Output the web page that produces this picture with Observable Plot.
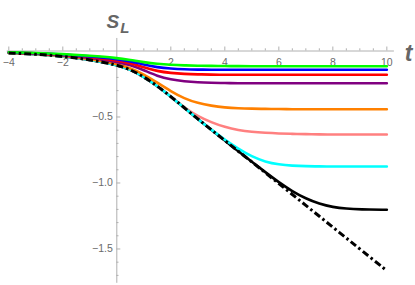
<!DOCTYPE html>
<html><head><meta charset="utf-8">
<script src="https://cdn.jsdelivr.net/npm/d3@7"></script>
<script src="https://cdn.jsdelivr.net/npm/@observablehq/plot@0.6"></script>
<style>body{margin:0;background:#fff}</style>
</head><body><div id="chart"></div>
<script>
// time samples
const t = [-4,-3,-2,-1,0,0.5,1,1.5,2,2.5,3,3.5,4,4.5,5,5.5,6,6.5,7,7.5,8,8.5,9,10];
// series values
const green  = [-0.009,-0.014,-0.023,-0.036,-0.052,-0.067,-0.085,-0.098,-0.105,-0.109,-0.112,-0.113,-0.114,-0.115,-0.115,-0.115,-0.115,-0.115,-0.115,-0.115,-0.115,-0.115,-0.115,-0.115];
const blue   = [-0.010,-0.016,-0.026,-0.040,-0.060,-0.077,-0.103,-0.124,-0.134,-0.139,-0.141,-0.142,-0.142,-0.142,-0.142,-0.142,-0.142,-0.142,-0.142,-0.142,-0.142,-0.142,-0.142,-0.142];
const red    = [-0.011,-0.017,-0.028,-0.045,-0.070,-0.090,-0.125,-0.153,-0.167,-0.174,-0.177,-0.179,-0.180,-0.180,-0.180,-0.180,-0.180,-0.180,-0.180,-0.180,-0.180,-0.180,-0.180,-0.180];
const purple = [-0.012,-0.019,-0.032,-0.052,-0.082,-0.105,-0.145,-0.190,-0.216,-0.230,-0.238,-0.241,-0.243,-0.244,-0.244,-0.244,-0.244,-0.244,-0.244,-0.244,-0.244,-0.244,-0.244,-0.244];
const orange = [-0.014,-0.022,-0.037,-0.060,-0.098,-0.130,-0.175,-0.240,-0.305,-0.360,-0.395,-0.415,-0.428,-0.434,-0.437,-0.439,-0.440,-0.441,-0.441,-0.441,-0.441,-0.441,-0.441,-0.441];
const pink   = [-0.015,-0.024,-0.040,-0.065,-0.105,-0.140,-0.195,-0.265,-0.345,-0.430,-0.495,-0.540,-0.577,-0.600,-0.613,-0.620,-0.625,-0.628,-0.630,-0.632,-0.633,-0.633,-0.633,-0.633];
const cyan   = [-0.015,-0.024,-0.040,-0.065,-0.105,-0.140,-0.195,-0.265,-0.345,-0.430,-0.515,-0.597,-0.672,-0.742,-0.800,-0.840,-0.860,-0.869,-0.873,-0.874,-0.875,-0.875,-0.875,-0.875];
const black  = [-0.015,-0.024,-0.040,-0.065,-0.105,-0.140,-0.195,-0.265,-0.345,-0.430,-0.515,-0.597,-0.678,-0.760,-0.840,-0.918,-0.995,-1.063,-1.118,-1.158,-1.183,-1.195,-1.200,-1.203];
const asymptote = [-0.015,-0.024,-0.040,-0.065,-0.105,-0.140,-0.195,-0.265,-0.345,-0.430,-0.515,-0.597,-0.678,-0.760,-0.840,-0.922,-1.005,-1.087,-1.170,-1.252,-1.335,-1.417,-1.500,-1.665];

const seriesOrder = [
  ["black", black, "#000000"],
  ["pink", pink, "#ff8080"],
  ["cyan", cyan, "#00ffff"],
  ["orange", orange, "#ff8000"],
  ["purple", purple, "#800080"],
  ["red", red, "#ff0000"],
  ["blue", blue, "#0000ff"],
  ["green", green, "#00ff00"]
];

// ticks
const xMajor = [-4,-2,2,4,6,8,10];
const xTickLabels = ["−4","−2","2","4","6","8","10"];
const xMinor = [-3.5,-3,-2.5,-1.5,-1,-0.5,0.5,1,1.5,2.5,3,3.5,4.5,5,5.5,6.5,7,7.5,8.5,9,9.5];
const yMajor = [-0.5,-1.0,-1.5];
const yTickLabels = ["−0.5","−1.0","−1.5"];
const yMinor = [-0.1,-0.2,-0.3,-0.4,-0.6,-0.7,-0.8,-0.9,-1.1,-1.2,-1.3,-1.4,-1.6,-1.7];
const xAxisExtent = [-4.06, 10.28];
const yAxisExtent = [0.095, -1.76];
const yLabel = "S", yLabelSub = "L", xLabel = "t";

const toRows = (arr) => t.map((tt, i) => ({t: tt, v: arr[i]}));
const axisColor = "#b0b0b0";
const labelColor = "#6a6a6a";
const font = "Liberation Sans, Arial, sans-serif";

const marks = [
  Plot.ruleY([0], {x1: xAxisExtent[0], x2: xAxisExtent[1], stroke: axisColor, strokeWidth: 1}),
  Plot.ruleX([0], {y1: yAxisExtent[0], y2: yAxisExtent[1], stroke: axisColor, strokeWidth: 1}),
  Plot.ruleX(xMajor, {x: d => d, y1: () => 0, y2: () => 0, insetTop: -4, stroke: axisColor}),
  Plot.ruleX(xMinor, {x: d => d, y1: () => 0, y2: () => 0, insetTop: -2.2, stroke: axisColor}),
  Plot.ruleY(yMajor, {y: d => d, x1: () => 0, x2: () => 0, insetRight: -4, stroke: axisColor}),
  Plot.ruleY(yMinor, {y: d => d, x1: () => 0, x2: () => 0, insetRight: -2.2, stroke: axisColor}),
  Plot.text(xMajor, {x: d => d, y: () => 0, text: (d, i) => xTickLabels[i], dy: 12, fontSize: 10.5, fill: labelColor, fontFamily: font}),
  Plot.text(yMajor, {x: () => 0, y: d => d, text: (d, i) => yTickLabels[i], dx: -4, textAnchor: "end", fontSize: 10.5, fill: labelColor, fontFamily: font}),
];

for (const [name, arr, color] of seriesOrder) {
  marks.push(Plot.line(toRows(arr), {x: "t", y: "v", stroke: color, strokeWidth: 2.6, curve: "basis"}));
}
marks.push(Plot.line(toRows(asymptote), {x: "t", y: "v", stroke: "#000", strokeWidth: 3, strokeDasharray: "7,3,2.5,3", strokeLinecap: "butt", curve: "basis"}));

marks.push(Plot.text([yLabel], {x: () => 0, y: () => 0, text: d => d, textAnchor: "end", dx: 2.5, dy: -29.5, fontSize: 19, fontWeight: "bold", fontStyle: "italic", fill: "#666", fontFamily: font}));
marks.push(Plot.text([yLabelSub], {x: () => 0, y: () => 0, text: d => d, textAnchor: "start", dx: 3.5, dy: -23, fontSize: 15, fontWeight: "bold", fontStyle: "italic", fill: "#666", fontFamily: font}));
marks.push(Plot.text([xLabel], {x: () => 10, y: () => 0, text: d => d, textAnchor: "start", dx: 18, dy: 2.5, fontSize: 23, fontWeight: "bold", fontStyle: "italic", fill: "#666", fontFamily: font}));

const plot = Plot.plot({
  width: 415, height: 285,
  marginLeft: 0.74, marginRight: 21.1, marginTop: 50.5, marginBottom: 2.2,
  x: {domain: [-4.28, 10.28], axis: null},
  y: {domain: [-1.76, 0], axis: null},
  style: {background: "white", overflow: "visible"},
  marks
});
document.getElementById("chart").appendChild(plot);
</script>
</body></html>
